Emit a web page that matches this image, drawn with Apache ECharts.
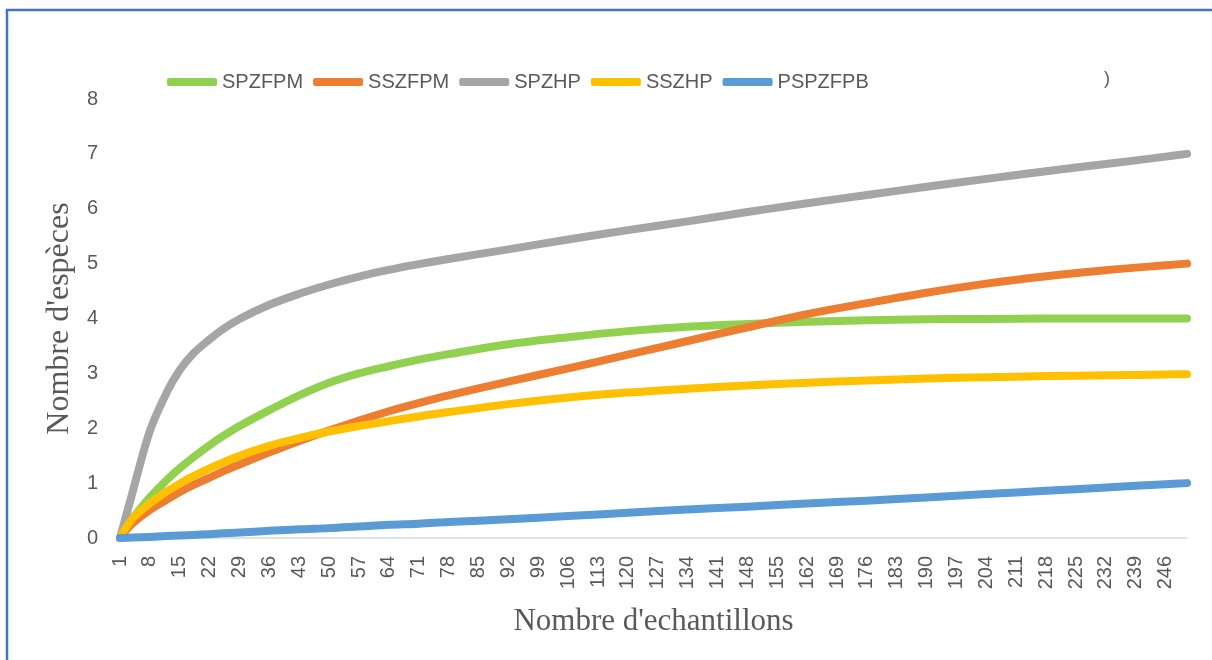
<!DOCTYPE html>
<html>
<head>
<meta charset="utf-8">
<script src="https://cdn.jsdelivr.net/npm/echarts@6/dist/echarts.min.js"></script>
<style>html,body{margin:0;padding:0;background:#fff}#c{width:1212px;height:660px}</style>
</head>
<body>
<div id="c"></div>
<script>
// Categories: sample numbers 1..251
const categories = [];
for (let i = 1; i <= 251; i++) categories.push(String(i));

// Sample positions (category labels) at which values were read
const sampleX = [1,4,8,12,15,18,22,25,29,36,43,50,57,64,71,78,92,106,120,134,148,162,176,190,204,218,232,246,251];

const seriesNames = ['SPZFPM','SSZFPM','SPZHP','SSZHP','PSPZFPB'];
const SPZFPM  = [0,0.36,0.74,1.06,1.27,1.46,1.69,1.85,2.04,2.33,2.60,2.83,3.00,3.13,3.25,3.35,3.53,3.66,3.77,3.85,3.90,3.94,3.97,3.985,3.993,4.0,4.0,4.0,4.0];
const SSZFPM  = [0,0.27,0.51,0.70,0.84,0.96,1.10,1.21,1.34,1.56,1.77,1.96,2.14,2.31,2.46,2.60,2.85,3.09,3.34,3.59,3.84,4.08,4.28,4.47,4.635,4.77,4.88,4.97,5.0];
const SPZHP   = [0,0.85,1.95,2.66,3.06,3.35,3.62,3.80,3.99,4.25,4.45,4.62,4.765,4.885,4.99,5.085,5.26,5.44,5.61,5.77,5.94,6.10,6.25,6.40,6.545,6.685,6.815,6.95,7.0];
const SSZHP   = [0,0.36,0.63,0.85,0.99,1.12,1.27,1.37,1.50,1.68,1.82,1.94,2.04,2.13,2.215,2.295,2.44,2.56,2.65,2.72,2.78,2.83,2.87,2.905,2.93,2.95,2.965,2.98,2.985];
const PSPZFPB = [0,0.01,0.02,0.035,0.045,0.055,0.07,0.085,0.10,0.13,0.16,0.18,0.21,0.24,0.26,0.29,0.34,0.40,0.46,0.52,0.57,0.63,0.68,0.74,0.80,0.86,0.92,0.98,1.0];
const yTicks = [0,1,2,3,4,5,6,7,8];

const colors = ['#92d050','#ed7d31','#a5a5a5','#ffc000','#5b9bd5'];
const allValues = [SPZFPM, SSZFPM, SPZHP, SSZHP, PSPZFPB];

const chart = echarts.init(document.getElementById('c'));
chart.setOption({
  animation: false,
  backgroundColor: '#fff',
  color: colors,
  graphic: [
    {type:'rect', shape:{x:7,y:10,width:1230,height:700}, style:{fill:'none', stroke:'#4472c4', lineWidth:2.5}, silent:true},
    {type:'text', left:1104, top:70, style:{text:')', font:'18px "Liberation Sans"', fill:'#595959'}}
  ],
  legend: {
    left: 162, top: 67,
    icon: 'roundRect',
    itemWidth: 50, itemHeight: 8, itemGap: 10,
    textStyle: {fontFamily:'Liberation Sans', fontSize: 20, color:'#595959'},
    data: seriesNames
  },
  grid: {left: 120, right: 25, top: 99, bottom: 122, containLabel: false},
  xAxis: {
    type: 'category', data: categories, boundaryGap: false,
    name: "Nombre d'echantillons", nameLocation: 'middle', nameGap: 68,
    nameTextStyle: {fontFamily:'Liberation Serif', fontSize: 31, color:'#595959'},
    axisLine: {lineStyle:{color:'#d9d9d9', width:1.5}},
    axisTick: {show:false},
    axisLabel: {interval: 6, rotate: 90, margin: 18, fontFamily:'Liberation Sans', fontSize: 20, color:'#595959'},
    splitLine: {show:false}
  },
  yAxis: {
    type: 'value', min: 0, max: 8, interval: 1,
    name: "Nombre d'espèces", nameLocation: 'middle', nameGap: 39,
    nameTextStyle: {fontFamily:'Liberation Serif', fontSize: 32, color:'#595959'},
    axisLine: {show:false}, axisTick: {show:false},
    axisLabel: {margin: 22, fontFamily:'Liberation Sans', fontSize: 20, color:'#595959',
      formatter: v => yTicks.includes(v) ? String(v) : ''},
    splitLine: {show:false}
  },
  series: seriesNames.map((n, i) => ({
    name: n, type: 'line', smooth: 0.35, showSymbol: false,
    lineStyle: {width: 8, color: colors[i], cap: 'round', join: 'round'},
    itemStyle: {color: colors[i]},
    data: sampleX.map((x, k) => [String(x), allValues[i][k]])
  }))
});
</script>
</body>
</html>
